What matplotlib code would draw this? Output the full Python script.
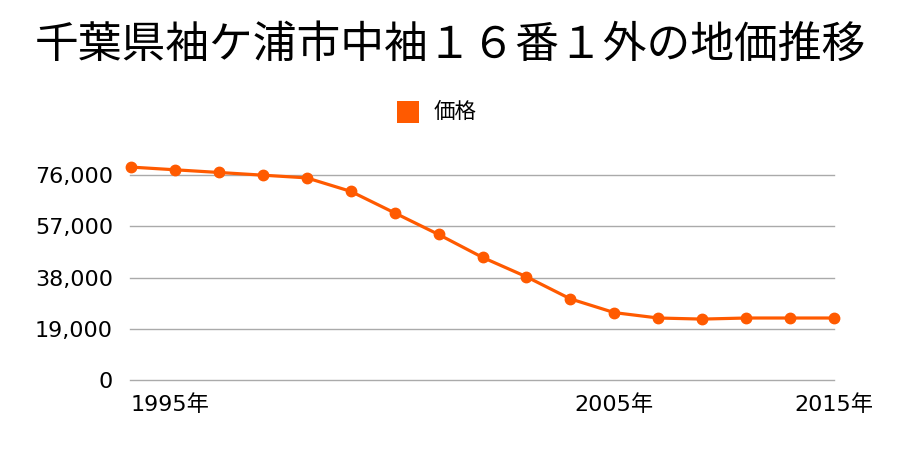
import matplotlib
matplotlib.use("Agg")
import matplotlib.pyplot as plt
from matplotlib.patches import Rectangle

title = "千葉県袖ケ浦市中袖１６番１外の地価推移"
series_name = "価格"
values = [79000, 78000, 77000, 76000, 75000, 70000, 62000, 54000, 45500,
          38300, 30100, 25000, 23000, 22600, 23000, 23000, 23000]
x_label_pos = [0, 11, 16]
x_labels = ["1995年", "2005年", "2015年"]
y_ticks = [0, 19000, 38000, 57000, 76000]
y_labels = ["0", "19,000", "38,000", "57,000", "76,000"]

color = "#ff5a00"
fam = ["DejaVu Sans", "Noto Sans CJK JP"]

fig = plt.figure(figsize=(9, 4.5), dpi=100)
ax = fig.add_axes([131/900, 1-380/450, (834-131)/900, (380-159)/450])
xs = list(range(len(values)))
ax.plot(xs, values, color=color, lw=2.3, marker="o", ms=7.5, clip_on=False, zorder=3)
ax.set_xlim(0, len(values)-1)
ax.set_ylim(0, 82000)
ax.set_yticks(y_ticks)
ax.set_yticklabels(y_labels, family=fam, fontsize=16)
ax.set_xticks(x_label_pos)
ax.set_xticklabels(x_labels, family=fam, fontsize=16)
ax.get_xticklabels()[0].set_horizontalalignment("left")
for s in ax.spines.values():
    s.set_visible(False)
ax.tick_params(axis="both", length=0)
ax.tick_params(axis="y", pad=13)
ax.tick_params(axis="x", pad=10)
for y in y_ticks:
    ax.plot([-0.002, 1], [y/82000]*2, transform=ax.transAxes, color="#aaaaaa", lw=1, zorder=1, clip_on=False)
fig.text(0.5, 1-45/450, title, ha="center", va="center", fontsize=31.5,
         family=["Noto Sans CJK JP", "DejaVu Sans"])
fig.patches.append(Rectangle((397/900, 1-123/450), 22/900, 22/450, transform=fig.transFigure,
                             facecolor=color, edgecolor="none"))
fig.text(434/900, 1-112/450, series_name, ha="left", va="center", fontsize=15.5,
         family=["Noto Sans CJK JP", "DejaVu Sans"])
fig.savefig("out.png", dpi=100)
